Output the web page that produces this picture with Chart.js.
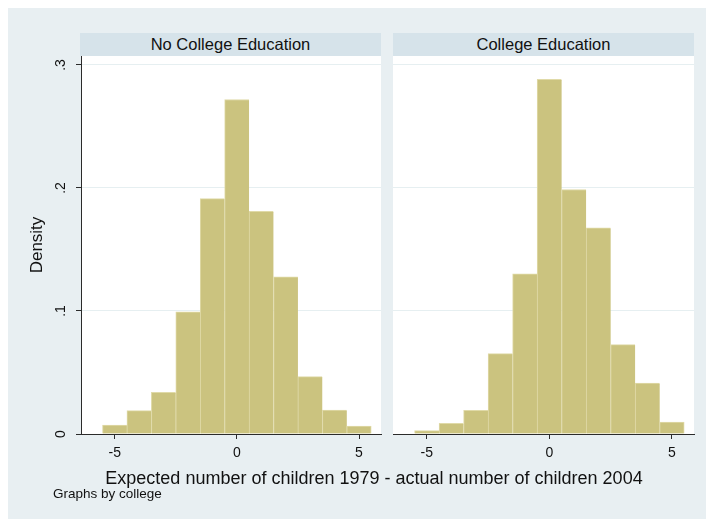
<!DOCTYPE html>
<html>
<head>
<meta charset="utf-8">
<script src="https://cdn.jsdelivr.net/npm/chart.js@4.4.1/dist/chart.umd.min.js"></script>
<style>
  html, body { margin: 0; padding: 0; background: #ffffff; }
  body { position: relative; width: 706px; height: 519px; overflow: hidden;
         font-family: "Liberation Sans", Arial, Helvetica, sans-serif; color: #111; }
  #frame { position: absolute; left: 8px; top: 8px; width: 698px; height: 511px; background: #e8eff2; }
  .strip { position: absolute; top: 33px; height: 23px; line-height: 23px; background: #d6e3ea;
           text-align: center; font-size: 16.5px; color: #111; white-space: nowrap; }
  canvas { position: absolute; top: 0; }
  #xtitle { position: absolute; left: 0; width: 748px; top: 467px; line-height: 22px;
            text-align: center; font-size: 18px; white-space: nowrap; }
  #note { position: absolute; left: 53px; top: 486px; line-height: 16px; font-size: 13.5px; white-space: nowrap; }
</style>
</head>
<body>
<div id="frame"></div>
<div class="strip" style="left:80px;width:301px;">No College Education</div>
<div class="strip" style="left:393px;width:301px;">College Education</div>
<canvas id="left" width="387" height="470" style="left:0px;"></canvas>
<canvas id="right" width="319" height="470" style="left:387px;"></canvas>
<div id="xtitle">Expected number of children 1979 - actual number of children 2004</div>
<div id="note">Graphs by college</div>
<script>
// Bin centres (width 1) and densities for each group
const bins = [-5, -4, -3, -2, -1, 0, 1, 2, 3, 4, 5];
const noCollegeDensity = [0.0073, 0.0190, 0.0338, 0.0994, 0.1914, 0.2719, 0.1811, 0.1278, 0.0466, 0.0195, 0.0065];
const collegeDensity   = [0.0027, 0.0087, 0.0192, 0.0653, 0.1302, 0.2884, 0.1988, 0.1676, 0.0726, 0.0414, 0.0097];

const xTicks = [-5, 0, 5];
const yTicks = [0, 0.1, 0.2, 0.3];
const yTickLabels = ['0', '.1', '.2', '.3'];

const X_MIN = -6.38, X_MAX = 5.9;
const Y_MIN = 0, Y_MAX = 0.3073;

const BAR_FILL = '#cbc37f';
const BAR_EDGE = '#e0daa8';
const GRID = '#e6eff1';
const AXIS = '#2b2b2b';
const FONT = '"Liberation Sans", Arial, Helvetica, sans-serif';

// White plot region behind the bars
const plotBackground = {
  id: 'plotBackground',
  beforeDraw(chart) {
    const { ctx, chartArea: a } = chart;
    ctx.save();
    ctx.fillStyle = '#ffffff';
    ctx.fillRect(a.left, a.top, a.right - a.left, a.bottom - a.top);
    ctx.restore();
  }
};

function histData(values) {
  return bins.map((b, i) => ({ x: b, y: values[i] }));
}

function panel(canvasId, values, withYAxis) {
  const last = bins.length - 1;
  return new Chart(document.getElementById(canvasId), {
    type: 'bar',
    plugins: [plotBackground],
    data: {
      datasets: [{
        data: histData(values),
        backgroundColor: BAR_FILL,
        borderColor: BAR_EDGE,
        borderWidth: ctx => ({ left: 1, top: 1, right: ctx.dataIndex === last ? 1 : 0, bottom: 0 }),
        borderSkipped: false,
        barPercentage: 1,
        categoryPercentage: 1
      }]
    },
    options: {
      responsive: false,
      animation: false,
      devicePixelRatio: 1,
      layout: { padding: withYAxis ? { top: 56, right: 6, bottom: 0, left: 0 }
                                    : { top: 56, right: 12, bottom: 0, left: 0 } },
      plugins: { legend: { display: false }, tooltip: { enabled: false } },
      scales: {
        x: {
          type: 'linear',
          min: X_MIN, max: X_MAX,
          offset: false,
          afterBuildTicks: s => { s.ticks = xTicks.map(v => ({ value: v })); },
          afterFit: s => { s.height = 36; },
          grid: { offset: false, drawOnChartArea: false, drawTicks: true, tickLength: 5, tickColor: AXIS, color: AXIS },
          border: { display: true, color: AXIS, width: 1 },
          ticks: { color: '#111', font: { family: FONT, size: 14 }, padding: 6, maxRotation: 0, autoSkip: false }
        },
        y: {
          min: Y_MIN, max: Y_MAX,
          afterBuildTicks: s => { s.ticks = yTicks.map(v => ({ value: v })); },
          afterFit: s => { s.width = withYAxis ? 81 : 6; },
          grid: { color: GRID, lineWidth: 1, drawTicks: withYAxis, tickLength: 5, tickColor: AXIS },
          border: { display: withYAxis, color: AXIS, width: 1 },
          ticks: {
            display: withYAxis,
            color: '#111',
            font: { family: FONT, size: 14 },
            minRotation: 90, maxRotation: 90,
            crossAlign: 'center',
            padding: 9,
            autoSkip: false,
            callback: (v, i) => yTickLabels[i]
          },
          title: {
            display: withYAxis,
            text: 'Density',
            color: '#111',
            font: { family: FONT, size: 17 },
            padding: { top: 27, bottom: 0 }
          }
        }
      }
    }
  });
}

panel('left', noCollegeDensity, true);
panel('right', collegeDensity, false);
</script>
</body>
</html>
